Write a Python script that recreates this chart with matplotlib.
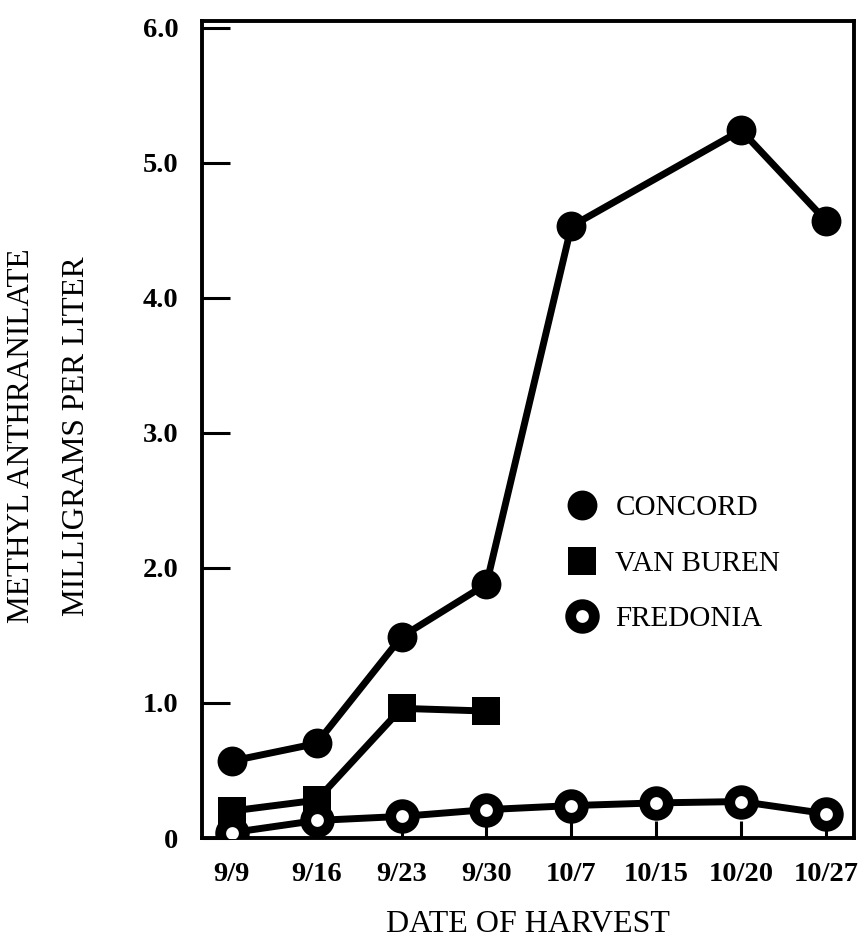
import matplotlib
matplotlib.use("Agg")
import matplotlib.pyplot as plt
from matplotlib.lines import Line2D

# harvest dates (evenly spaced on the chart)
dates = ["9/9", "9/16", "9/23", "9/30", "10/7", "10/15", "10/20", "10/27"]

# concord has no 10/15 sample
concord_idx = [0, 1, 2, 3, 4, 6, 7]
concord = [0.57, 0.70, 1.49, 1.88, 4.53, 5.24, 4.57]

van_buren_idx = [0, 1, 2, 3]
van_buren = [0.20, 0.28, 0.96, 0.94]

fredonia_idx = [0, 1, 2, 3, 4, 5, 6, 7]
fredonia = [0.04, 0.13, 0.16, 0.21, 0.24, 0.26, 0.27, 0.18]

y_ticks = [0, 1, 2, 3, 4, 5, 6]
y_labels = ["0", "1.0", "2.0", "3.0", "4.0", "5.0", "6.0"]

serif = "Liberation Serif"

fig = plt.figure(figsize=(8.66, 9.40), dpi=100)
ax = fig.add_axes([0.2333, 0.1085, 0.7529, 0.8692])

ax.plot(concord_idx, concord, color="black", lw=5, marker="o", ms=21.5, mew=0, zorder=3)
ax.plot(van_buren_idx, van_buren, color="black", lw=5, marker="s", ms=19.5, mew=0, zorder=4)
ax.plot(fredonia_idx, fredonia, color="black", lw=5, marker="o", ms=17, mew=7.8,
        mfc="white", mec="black", zorder=5)

ax.set_xlim(-0.35, 7.33)
ax.set_ylim(0, 6.05)

for s in ax.spines.values():
  s.set_linewidth(2.8)

ax.set_xticks(range(len(dates)))
ax.set_xticklabels(dates)
ax.set_yticks(y_ticks)
ax.set_yticklabels(y_labels)
ax.tick_params(axis="y", direction="in", length=20, width=2.2, pad=17)
ax.tick_params(axis="x", direction="in", length=12, width=2.2, pad=17)
for lab in ax.get_xticklabels() + ax.get_yticklabels():
  lab.set_fontfamily(serif)
  lab.set_fontweight("bold")
  lab.set_fontsize(20.5)

# axis titles
fig.text(22 / 866, 1 - 436 / 940, "METHYL ANTHRANILATE", rotation=90,
         ha="center", va="center", family=serif, fontsize=22.5)
fig.text(77 / 866, 1 - 436 / 940, "MILLIGRAMS PER LITER", rotation=90,
         ha="center", va="center", family=serif, fontsize=22.5)
fig.text(528 / 866, 1 - 925 / 940, "DATE OF HARVEST",
         ha="center", va="center", family=serif, fontsize=23)

# legend, markers only
handles = [
  Line2D([], [], ls="none", color="black", marker="o", ms=21.5, mew=0),
  Line2D([], [], ls="none", color="black", marker="s", ms=19.5, mew=0),
  Line2D([], [], ls="none", marker="o", ms=17, mew=7.8, mfc="white", mec="black"),
]
names = ["CONCORD", "VAN BUREN", "FREDONIA"]
leg = ax.legend(handles, names, loc="upper left", bbox_to_anchor=(0.5606, 0.42),
                frameon=False, handlelength=1.0, handletextpad=0.64,
                labelspacing=1.0, borderpad=0, borderaxespad=0,
                prop={"family": serif, "size": 21})

fig.savefig("out.png", dpi=100)
